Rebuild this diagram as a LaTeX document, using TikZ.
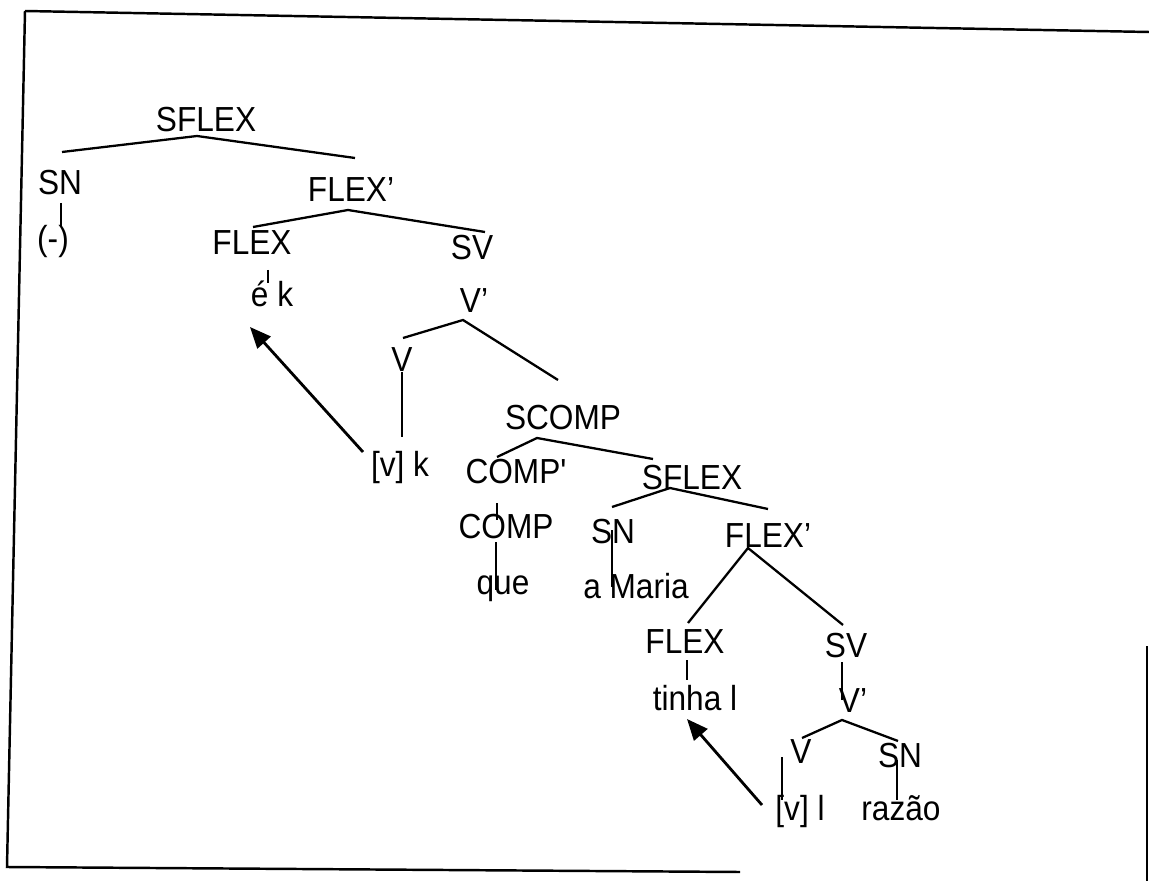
\documentclass[tikz,border=0pt]{standalone}
\usepackage{fontspec}
\setmainfont{Liberation Sans}
\usetikzlibrary{arrows.meta}

\begin{document}
\begin{tikzpicture}[x=0.02cm,y=-0.02cm]

\tikzstyle {lbl} = [anchor=base, inner sep=0pt, yscale=1.1, transform shape, font=\fontsize{18}{20}\selectfont];
\tikzstyle {branch} = [line width=1.3pt];
\tikzstyle {stem} = [line width=0.8pt];
\tikzstyle {mov} = [line width=1.6pt, -{Triangle[length=12pt,width=10pt]}];
\tikzstyle {frame} = [line width=1.4pt];

\useasboundingbox (0,0) rectangle (1149,881);

%frame:
\draw[frame] (25,11) -- (1149,32);
\draw[frame] (25,11) -- (7,867) -- (740,872);
\draw[frame] (1147,646) -- (1147,881);

%upper tree:
\node[lbl] (sflexA) at (206,132) {SFLEX};
\node[lbl] (snA) at (60,195) {SN};
\node[lbl] (parA) at (53,251) {(-)};
\node[lbl] (flexbA) at (351,202) {FLEX’};
\node[lbl] (flexA) at (252,255) {FLEX};
\node[lbl] (ekA) at (272,307) {é k};
\node[lbl] (svA) at (472,260) {SV};
\node[lbl] (vbA) at (474,313) {V’};
\node[lbl] (vA) at (402,372) {V};
\node[lbl] (trA) at (400,477) {[v] k};

\draw[branch] ([shift={(2,-43)}]snA.base) -- ([shift={(-9,4)}]sflexA.base) -- ([shift={(4,-44)}]flexbA.base);
\draw[branch] ([shift={(1,-28)}]flexA.base) -- ([shift={(-3,8)}]flexbA.base) -- ([shift={(13,-28)}]svA.base);
\draw[stem] ([shift={(1,8)}]snA.base) -- ([shift={(8,-24)}]parA.base);
\draw[stem] ([shift={(16,15)}]flexA.base) -- ([shift={(-4,-24)}]ekA.base);

%embedded clause:
\node[lbl] (scomp) at (563,430) {SCOMP};
\node[lbl] (compb) at (516,483) {COMP\textquotesingle};
\node[lbl] (sflexB) at (692,490) {SFLEX};
\node[lbl] (comp) at (506,539) {COMP};
\node[lbl] (que) at (503,594) {que};
\node[lbl] (snB) at (613,543) {SN};
\node[lbl] (maria) at (636,598) {a Maria};
\node[lbl] (flexbB) at (768,547) {FLEX’};
\node[lbl] (flexB) at (685,653) {FLEX};
\node[lbl] (tinha) at (695,710) {tinha l};
\node[lbl] (svB) at (846,657) {SV};
\node[lbl] (vbB) at (853,712) {V’};
\node[lbl] (vB) at (801,763) {V};
\node[lbl] (snC) at (900,767) {SN};
\node[lbl] (trB) at (800,820) {[v] l};
\node[lbl] (razao) at (901,820) {razão};

\draw[branch] ([shift={(1,-34)}]vA.base) -- ([shift={(-11,7)}]vbA.base) -- ([shift={(-5,-50)}]scomp.base);
\draw[stem] (vA.base) -- ([shift={(2,-40)}]trA.base);
\draw[branch] ([shift={(-19,-26)}]compb.base) -- ([shift={(-26,8)}]scomp.base) -- ([shift={(-39,-31)}]sflexB.base);
\draw[stem] ([shift={(-19,20)}]compb.base) -- ([shift={(-9,-19)}]comp.base);
\draw[stem] ([shift={(-10,3)}]comp.base) -- ([shift={(-7,-4)}]que.base);
\draw[branch] ([shift={(-1,-36)}]snB.base) -- ([shift={(-22,-2)}]sflexB.base) -- ([shift={(0,-38)}]flexbB.base);
\draw[stem] ([shift={(-1,-13)}]snB.base) -- ([shift={(-24,-11)}]maria.base);
\draw[branch] ([shift={(3,-30)}]flexB.base) -- ([shift={(-20,1)}]flexbB.base) -- ([shift={(-3,-32)}]svB.base);
\draw[stem] ([shift={(2,7)}]flexB.base) -- ([shift={(-8,-30)}]tinha.base);
\draw[stem] ([shift={(-4,5)}]svB.base) -- ([shift={(-11,-12)}]vbB.base);
\draw[branch] ([shift={(1,-25)}]vB.base) -- ([shift={(-11,8)}]vbB.base) -- ([shift={(-2,-26)}]snC.base);
\draw[stem] ([shift={(-19,-6)}]vB.base) -- ([shift={(-18,-20)}]trB.base);
\draw[stem] ([shift={(-3,-7)}]snC.base) -- ([shift={(-4,-20)}]razao.base);

%movement arrows:
\draw[mov] ([shift={(-37,-25)}]trA.base) -- ([shift={(-22,20)}]ekA.base);
\draw[mov] ([shift={(-38,-15)}]trB.base) -- ([shift={(-8,9)}]tinha.base);

\end{tikzpicture}
\end{document}
